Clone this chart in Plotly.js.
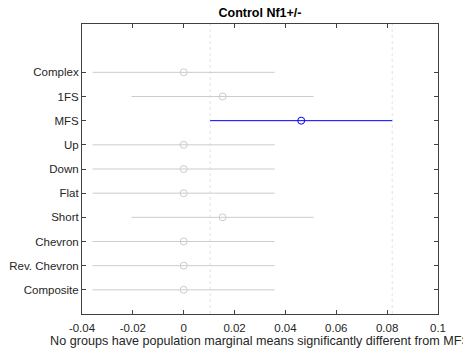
<!DOCTYPE html>
<html>
<head>
<meta charset="utf-8">
<script src="https://cdn.plot.ly/plotly-3.0.1.min.js"></script>
<style>html,body{margin:0;padding:0;background:#fff;}#chart{width:463px;height:354px;}</style>
</head>
<body>
<div id="chart"></div>
<script>
// Groups from bottom to top
const groups = ["Composite", "Rev. Chevron", "Chevron", "Short", "Flat", "Down", "Up", "MFS", "1FS", "Complex"];
const groupPos = [1, 2, 3, 4, 5, 6, 7, 8, 9, 10];
const means = [0, 0, 0, 0.0153, 0, 0, 0, 0.0462, 0.0153, 0];
const lower = [-0.0358, -0.0358, -0.0358, -0.0205, -0.0358, -0.0358, -0.0358, 0.0104, -0.0205, -0.0358];
const upper = [0.0358, 0.0358, 0.0358, 0.0511, 0.0358, 0.0358, 0.0358, 0.0820, 0.0511, 0.0358];
const selected = "MFS";
const xTicks = [-0.04, -0.02, 0, 0.02, 0.04, 0.06, 0.08, 0.1];
const xTickText = ["-0.04", "-0.02", "0", "0.02", "0.04", "0.06", "0.08", "0.1"];

const grey = "#cccccc";
const blue = "#0000ff";
const traces = [];
groups.forEach((g, i) => {
  const c = g === selected ? blue : grey;
  traces.push({
    x: [lower[i], upper[i]], y: [groupPos[i], groupPos[i]],
    mode: "lines", line: {color: c, width: 1}, hoverinfo: "skip", showlegend: false
  });
  traces.push({
    x: [means[i]], y: [groupPos[i]],
    mode: "markers", marker: {symbol: "circle-open", size: 7, color: c, line: {width: 1, color: c}},
    showlegend: false
  });
});
const si = groups.indexOf(selected);
const shapes = [lower[si], upper[si]].map(v => ({
  type: "line", xref: "x", yref: "paper", x0: v, x1: v, y0: 0, y1: 1,
  line: {color: "#e2e2e2", width: 1, dash: "dot"}, layer: "below"
}));

const fam = "Liberation Sans, Arial, sans-serif";
const font = {family: fam, size: 11.5, color: "#262626"};
const layout = {
  width: 463, height: 354,
  margin: {l: 82, r: 25, t: 24, b: 40},
  paper_bgcolor: "#fff", plot_bgcolor: "#fff",
  font: font,
  showlegend: false,
  title: {text: "<b>Control Nf1+/-</b>", x: 0.5, xref: "paper", y: 1 - 13/354, yref: "container", yanchor: "middle",
          font: {family: fam, size: 12.5, color: "#000"}},
  xaxis: {
    range: [-0.04, 0.1], tickvals: xTicks, ticktext: xTickText,
    ticks: "inside", ticklen: 4, tickcolor: "#404040", showline: true, linecolor: "#404040", linewidth: 1,
    mirror: "ticks", showgrid: false, zeroline: false, tickfont: font, ticklabelstandoff: 3,
    title: {text: "No groups have population marginal means significantly different from MFS", font: {family: fam, size: 12.6, color: "#262626"}, standoff: 3}
  },
  yaxis: {
    range: [0, 12], tickvals: groupPos, ticktext: groups,
    ticks: "inside", ticklen: 4, tickcolor: "#404040", showline: true, linecolor: "#404040", linewidth: 1,
    mirror: "ticks", showgrid: false, zeroline: false, tickfont: font
  },
  shapes: shapes
};
Plotly.newPlot("chart", traces, layout, {displayModeBar: false, staticPlot: true});
</script>
</body>
</html>
